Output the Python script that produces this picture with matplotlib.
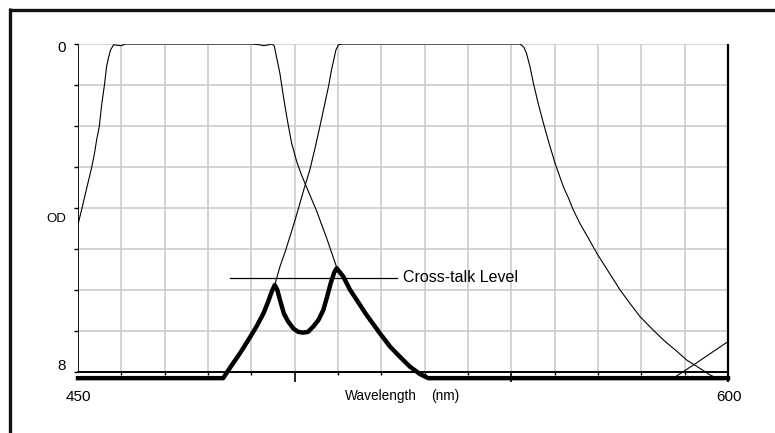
import matplotlib
matplotlib.use('Agg')
import matplotlib.pyplot as plt
from matplotlib.lines import Line2D

plt.rcParams['font.family'] = ['Liberation Sans', 'DejaVu Sans']

# filter 1 (left passband), wavelength nm / OD
f1_wl = [450.07, 451.0, 452.0, 453.2, 453.8, 454.3, 454.9, 455.5, 456.1, 456.6,
         457.0, 457.5, 458.2, 459.0, 460.0, 461.0, 470.0, 480.0, 490.0, 492.0,
         492.8, 494.0, 494.8, 495.3, 495.8, 496.6, 497.4, 498.3, 499.3, 500.5,
         501.6, 502.7, 503.9, 505.1, 506.2, 507.4, 508.5, 509.7, 511.2, 512.8,
         514.3, 516.6, 519.7, 522.0, 524.3, 526.6, 528.9, 530.8]
f1_od = [4.37, 3.97, 3.52, 2.99, 2.67, 2.34, 2.02, 1.45, 1.0, 0.55,
         0.35, 0.15, 0.02, 0.03, 0.04, 0.0, 0.0, 0.0, 0.0, 0.02,
         0.04, 0.02, 0.0, 0.05, 0.31, 0.72, 1.28, 1.85, 2.42, 2.88,
         3.2, 3.48, 3.78, 4.08, 4.4, 4.74, 5.08, 5.45, 5.67, 6.0,
         6.24, 6.61, 7.06, 7.38, 7.63, 7.87, 8.05, 8.15]

# filter 2 (right passband)
f2_wl = [483.5, 485.5, 487.4, 489.3, 491.2, 492.8, 493.9, 494.7, 495.4, 496.6,
         497.8, 498.9, 500.1, 501.2, 502.2, 503.5, 504.7, 505.8, 506.8,
         507.8, 508.5, 509.1, 509.5, 510.1, 511.0, 520.0, 530.0, 540.0, 551.0,
         552.0, 552.9, 553.5, 554.3, 555.1, 556.2, 557.4, 558.7, 560.1, 562.0,
         563.2, 564.3, 565.8, 567.8, 569.7, 572.4, 575.1, 577.4, 579.7, 582.4,
         585.1, 587.8, 590.5, 593.5, 595.8, 596.6]
f2_od = [8.15, 7.83, 7.54, 7.22, 6.89, 6.57, 6.28, 6.04, 5.88, 5.43,
         5.07, 4.70, 4.29, 3.89, 3.52, 3.07, 2.54, 2.02, 1.53,
         1.04, 0.63, 0.35, 0.15, 0.02, 0.0, 0.0, 0.0, 0.0, 0.0,
         0.0, 0.08, 0.23, 0.55, 0.96, 1.45, 1.93, 2.42, 2.91, 3.48,
         3.76, 4.05, 4.37, 4.74, 5.10, 5.55, 6.0, 6.33, 6.65, 6.94,
         7.22, 7.46, 7.71, 7.91, 8.07, 8.11]

# filter 3 (edge entering at right)
f3_wl = [588.1, 592.0, 599.7]
f3_od = [8.1, 7.83, 7.28]

# cross-talk curve (thick)
ct_wl = [450.0, 483.5, 485.5, 487.4, 489.3, 491.2, 492.8, 493.9, 494.7, 495.4,
         496.0, 496.6, 497.5, 498.5, 499.7, 500.8, 502.0, 503.1, 504.3, 505.5,
         506.6, 507.5, 508.3, 509.1, 509.7, 511.2, 512.8, 514.3, 516.6, 519.7,
         522.0, 524.3, 526.6, 528.9, 530.8, 600.0]
ct_od = [8.15, 8.15, 7.83, 7.54, 7.22, 6.89, 6.57, 6.28, 6.04, 5.88,
         6.0, 6.24, 6.57, 6.77, 6.94, 7.02, 7.04, 7.02, 6.89, 6.73,
         6.49, 6.16, 5.84, 5.58, 5.47, 5.67, 6.0, 6.24, 6.61, 7.06,
         7.38, 7.63, 7.87, 8.05, 8.15, 8.15]

xtalk_level = 5.70
xtalk_span = [485.1, 523.6]

fig = plt.figure(figsize=(7.75, 4.33), dpi=100)
ax = fig.add_axes([78 / 775, (433 - 380.2) / 433, 650 / 775, 336.2 / 433])
ax.set_xlim(450, 600)
ax.set_ylim(8.2, 0)

for s in ['top', 'left', 'right']:
    ax.spines[s].set_visible(False)
ax.spines['bottom'].set_position(('data', 8))
ax.spines['bottom'].set_linewidth(1.4)

# grid
for x in range(460, 600, 10):
    ax.plot([x, x], [0, 8], color='#c8c8c8', lw=1.1, zorder=1)
for y in range(0, 8):
    ax.plot([450, 600], [y, y], color='#c8c8c8', lw=1.1, zorder=1)

# left and right axis lines
ax.plot([450, 450], [0, 8], color='black', lw=1.3, zorder=3, solid_capstyle='butt')
ax.plot([600, 600], [0, 8.25], color='black', lw=1.6, zorder=3, solid_capstyle='butt',
        clip_on=False)

ax.set_xticks([500, 550, 600])
ax.set_xticklabels([])
ax.set_xticks(range(460, 600, 10), minor=True)
ax.tick_params(axis='x', which='major', length=7.5, width=1.2, direction='out')
ax.tick_params(axis='x', which='minor', length=2, width=1.0, direction='out')
ax.set_yticks(range(0, 9))
ax.set_yticklabels([])
ax.tick_params(axis='y', length=3, width=1.0, direction='out')

ax.plot(f1_wl, f1_od, color='black', lw=0.8, zorder=4)
ax.plot(f2_wl, f2_od, color='black', lw=0.8, zorder=4)
ax.plot(f3_wl, f3_od, color='black', lw=0.8, zorder=4)
ax.plot(ct_wl, ct_od, color='black', lw=3.2, zorder=5, solid_joinstyle='round',
        clip_on=False)

ax.plot(xtalk_span, [xtalk_level, xtalk_level], color='black', lw=0.9, zorder=4)
ax.text(524.9, xtalk_level, 'Cross-talk Level', fontsize=11.5, va='center', ha='left')

# axis texts
ax.text(446.3, 0.1, '0', fontsize=11, ha='center', va='center', clip_on=False)
ax.text(445.1, 4.27, 'OD', fontsize=9.5, ha='center', va='center', clip_on=False)
ax.text(446.3, 7.85, '8', fontsize=11, ha='center', va='center', clip_on=False)
ax.text(450, 8.61, '450', fontsize=11, ha='center', va='center', clip_on=False)
ax.text(600.2, 8.61, '600', fontsize=11, ha='center', va='center', clip_on=False)
ax.text(511.6, 8.59, 'Wavelength', fontsize=9.8, ha='left', va='center', clip_on=False)
ax.text(531.6, 8.59, '(nm)', fontsize=9.8, ha='left', va='center', clip_on=False)

# outer frame (top and left only visible)
fig.add_artist(Line2D([8.8 / 775, 1.0], [1 - 9.5 / 433, 1 - 9.5 / 433],
                      color='#111111', lw=2.4, solid_capstyle='butt',
                      transform=fig.transFigure))
fig.add_artist(Line2D([10 / 775, 10 / 775], [0, 1 - 8.3 / 433],
                      color='#111111', lw=2.4, solid_capstyle='butt',
                      transform=fig.transFigure))

fig.savefig('out.png', dpi=100)
